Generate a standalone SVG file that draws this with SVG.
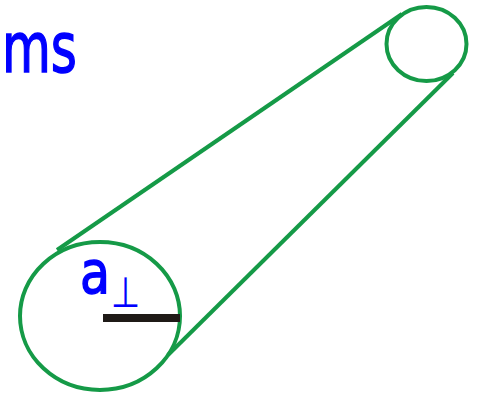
<svg xmlns="http://www.w3.org/2000/svg" width="479" height="393" viewBox="0 0 479 393">
<style>
.g{fill:none;stroke:#159a47;stroke-width:4}
.t{font-family:"DejaVu Sans",sans-serif;fill:#0000ff;stroke:#0000ff}
</style>
<rect width="479" height="393" fill="#fff"/>
<g id="connectors">
<line class="g" x1="57" y1="250" x2="402" y2="14"/>
<line class="g" x1="168" y1="355" x2="453" y2="73"/>
</g>
<g id="big">
<ellipse class="g" cx="100" cy="316" rx="80" ry="74"/>
<rect x="103" y="314" width="77" height="8" fill="#1f1a17"/>
</g>
<g id="small">
<ellipse class="g" cx="426.5" cy="44" rx="40" ry="37" stroke-width="3.5"/>
</g>
<g id="labels">
<text class="t" x="2" y="72" font-size="70" stroke-width="1.5" textLength="75" lengthAdjust="spacingAndGlyphs">ms</text>
<text class="t" x="80" y="293" font-size="58" stroke-width="1.5" textLength="30" lengthAdjust="spacingAndGlyphs">a</text>
<text class="t" x="111" y="307" font-size="42" stroke-width="0.2" textLength="29" lengthAdjust="spacingAndGlyphs">⊥</text>
</g>
</svg>
